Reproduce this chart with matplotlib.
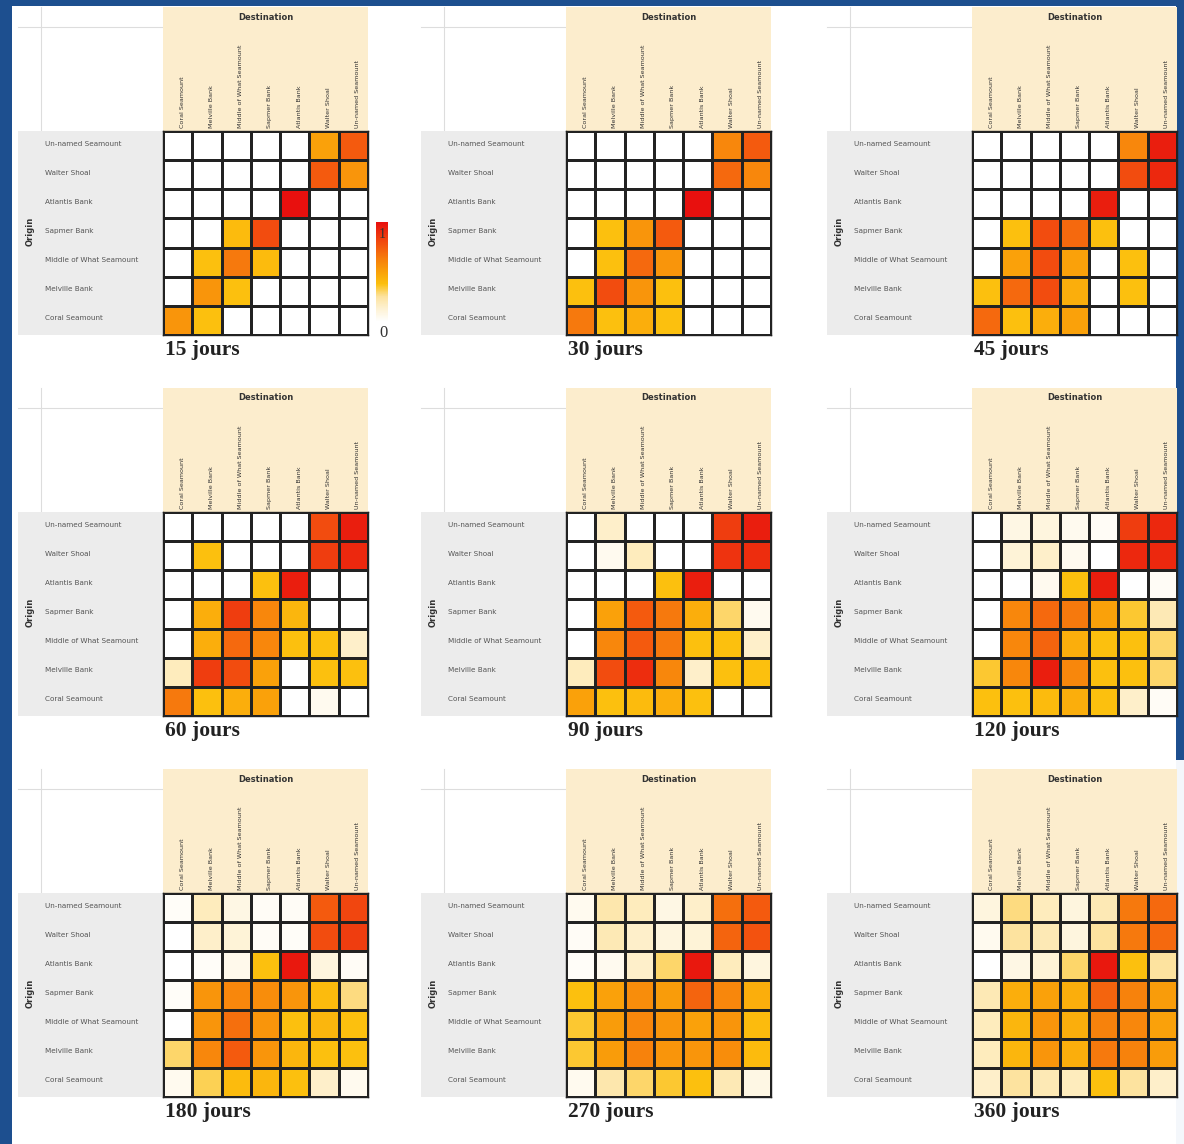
import numpy as np
import matplotlib
matplotlib.use("Agg")
import matplotlib.pyplot as plt
from matplotlib.colors import LinearSegmentedColormap
from matplotlib.patches import Rectangle
from matplotlib.lines import Line2D

W, H = 1184, 1144

sites_dest = ["Coral Seamount", "Melville Bank", "Middle of What Seamount",
              "Sapmer Bank", "Atlantis Bank", "Walter Shoal", "Un-named Seamount"]
sites_orig = ["Un-named Seamount", "Walter Shoal", "Atlantis Bank", "Sapmer Bank",
              "Middle of What Seamount", "Melville Bank", "Coral Seamount"]

durations = ["15 jours", "30 jours", "45 jours", "60 jours", "90 jours",
             "120 jours", "180 jours", "270 jours", "360 jours"]

# connectivity matrices: rows = origin (top to bottom), columns = destination
conn_15 = [[0, 0, 0, 0, 0, 0.50, 0.75],
           [0, 0, 0, 0, 0, 0.75, 0.55],
           [0, 0, 0, 0, 1.00, 0, 0],
           [0, 0, 0.40, 0.80, 0, 0, 0],
           [0, 0.38, 0.65, 0.40, 0, 0, 0],
           [0, 0.55, 0.38, 0, 0, 0, 0],
           [0.55, 0.38, 0, 0, 0, 0, 0]]
conn_30 = [[0, 0, 0, 0, 0, 0.60, 0.75],
           [0, 0, 0, 0, 0, 0.70, 0.60],
           [0, 0, 0, 0, 1.00, 0, 0],
           [0, 0.38, 0.55, 0.75, 0, 0, 0],
           [0, 0.38, 0.70, 0.55, 0, 0, 0],
           [0.38, 0.80, 0.55, 0.38, 0, 0, 0],
           [0.65, 0.38, 0.45, 0.38, 0, 0, 0]]
conn_45 = [[0, 0, 0, 0, 0, 0.60, 0.95],
           [0, 0, 0, 0, 0, 0.80, 0.92],
           [0, 0, 0, 0, 0.95, 0, 0],
           [0, 0.38, 0.80, 0.70, 0.38, 0, 0],
           [0, 0.50, 0.80, 0.50, 0, 0.38, 0],
           [0.38, 0.70, 0.80, 0.45, 0, 0.38, 0],
           [0.70, 0.38, 0.45, 0.50, 0, 0, 0]]
conn_60 = [[0, 0, 0, 0, 0, 0.80, 0.95],
           [0, 0.38, 0, 0, 0, 0.85, 0.92],
           [0, 0, 0, 0.38, 0.95, 0, 0],
           [0, 0.45, 0.85, 0.60, 0.42, 0, 0],
           [0, 0.45, 0.70, 0.60, 0.38, 0.38, 0.15],
           [0.18, 0.85, 0.80, 0.50, 0, 0.38, 0.38],
           [0.65, 0.38, 0.45, 0.50, 0, 0.05, 0]]
conn_90 = [[0, 0.15, 0, 0, 0, 0.85, 0.95],
           [0, 0.05, 0.18, 0, 0, 0.88, 0.90],
           [0, 0, 0, 0.38, 0.95, 0, 0],
           [0, 0.50, 0.75, 0.65, 0.45, 0.30, 0.05],
           [0, 0.60, 0.75, 0.65, 0.38, 0.38, 0.15],
           [0.18, 0.80, 0.90, 0.60, 0.15, 0.38, 0.38],
           [0.50, 0.38, 0.40, 0.45, 0.38, 0, 0]]
conn_120 = [[0, 0.08, 0.10, 0.05, 0.03, 0.85, 0.92],
            [0, 0.12, 0.15, 0.05, 0, 0.92, 0.92],
            [0, 0, 0.05, 0.38, 0.95, 0, 0.03],
            [0, 0.60, 0.70, 0.65, 0.50, 0.35, 0.20],
            [0, 0.60, 0.72, 0.45, 0.38, 0.38, 0.30],
            [0.35, 0.60, 0.95, 0.60, 0.38, 0.38, 0.30],
            [0.38, 0.38, 0.40, 0.45, 0.38, 0.15, 0.03]]
conn_180 = [[0.02, 0.18, 0.08, 0.03, 0.03, 0.75, 0.82],
            [0, 0.15, 0.12, 0.03, 0.02, 0.80, 0.85],
            [0, 0.02, 0.06, 0.38, 0.97, 0.10, 0.03],
            [0.02, 0.55, 0.60, 0.58, 0.55, 0.40, 0.28],
            [0, 0.55, 0.68, 0.55, 0.38, 0.42, 0.38],
            [0.30, 0.60, 0.75, 0.55, 0.42, 0.38, 0.38],
            [0.05, 0.32, 0.40, 0.42, 0.38, 0.15, 0.05]]
conn_270 = [[0.05, 0.22, 0.18, 0.08, 0.15, 0.68, 0.75],
            [0.03, 0.20, 0.15, 0.10, 0.12, 0.72, 0.78],
            [0.02, 0.05, 0.15, 0.30, 0.97, 0.18, 0.10],
            [0.38, 0.50, 0.58, 0.52, 0.72, 0.60, 0.45],
            [0.35, 0.52, 0.60, 0.55, 0.50, 0.55, 0.40],
            [0.35, 0.52, 0.62, 0.55, 0.55, 0.58, 0.40],
            [0.05, 0.22, 0.30, 0.35, 0.38, 0.20, 0.08]]
conn_360 = [[0.10, 0.28, 0.18, 0.10, 0.20, 0.65, 0.70],
            [0.05, 0.25, 0.20, 0.10, 0.25, 0.65, 0.70],
            [0.00, 0.08, 0.12, 0.30, 0.97, 0.38, 0.25],
            [0.20, 0.45, 0.50, 0.45, 0.72, 0.62, 0.52],
            [0.18, 0.42, 0.55, 0.45, 0.62, 0.60, 0.50],
            [0.18, 0.42, 0.55, 0.45, 0.65, 0.62, 0.52],
            [0.15, 0.25, 0.20, 0.18, 0.38, 0.25, 0.15]]

matrices = [conn_15, conn_30, conn_45, conn_60, conn_90,
            conn_120, conn_180, conn_270, conn_360]

cmap = LinearSegmentedColormap.from_list(
    "connect",
    [(0.0, "#ffffff"), (0.12, "#fef3d6"), (0.25, "#fde3a0"),
     (0.38, "#fcc00e"), (0.5, "#faa20a"), (0.62, "#f7820c"),
     (0.78, "#f3520f"), (1.0, "#e8100e")])

fig = plt.figure(figsize=(W / 100, H / 100), dpi=100)
fig.patch.set_facecolor("#1d4f8f")


def fx(x):
    return x / W


def fy(y):
    return 1 - y / H


def frect(x0, y0, x1, y1, **kw):
    fig.patches.append(Rectangle((fx(x0), fy(y1)), fx(x1) - fx(x0), fy(y0) - fy(y1),
                                 transform=fig.transFigure, figure=fig, **kw))


def fline(xs, ys, **kw):
    fig.lines.append(Line2D([fx(v) for v in xs], [fy(v) for v in ys],
                            transform=fig.transFigure, figure=fig, **kw))


# slide surface
frect(12, 6, 1176, H, facecolor="white", edgecolor="none", zorder=-2)
frect(1176, 760, W, H, facecolor="#f4f7fb", edgecolor="none", zorder=-2)

grid_w, grid_h = 205, 204
head_h, side_w = 124, 145
col_left = [163, 566, 972]
row_top = [131, 512, 893]

for k, (mat, title) in enumerate(zip(matrices, durations)):
    gx = col_left[k % 3]
    gy = row_top[k // 3]
    # header and side panels
    frect(gx, gy - head_h, gx + grid_w, gy, facecolor="#fcedcd", edgecolor="none", zorder=-1)
    frect(gx - side_w, gy, gx, gy + grid_h, facecolor="#ececec", edgecolor="none", zorder=-1)
    fline([gx - side_w, gx], [gy - head_h + 20, gy - head_h + 20], color="#dddddd", lw=0.8, zorder=-1)
    fline([gx - side_w + 23, gx - side_w + 23], [gy - head_h, gy], color="#dddddd", lw=0.8, zorder=-1)

    ax = fig.add_axes([fx(gx), fy(gy + grid_h), grid_w / W, grid_h / H])
    ax.set_zorder(2)
    ax.pcolormesh(np.array(mat), cmap=cmap, vmin=0, vmax=1,
                  edgecolors="#222222", linewidth=0.75)
    ax.set_xlim(0, 7)
    ax.set_ylim(7, 0)
    ax.set_xticks([])
    ax.set_yticks([])
    for s in ax.spines.values():
        s.set_color("#222222")
        s.set_linewidth(1.0)

    cw = grid_w / 7
    for j, name in enumerate(sites_dest):
        fig.text(fx(gx + (j + 0.65) * cw), fy(gy - 3), name, rotation=90,
                 ha="center", va="bottom", fontsize=4.6, color="#333333")
    rh = grid_h / 7
    for i, name in enumerate(sites_orig):
        fig.text(fx(gx - 118), fy(gy + (i + 0.5) * rh - 2), name,
                 ha="left", va="center", fontsize=5.2, color="#555555")
    fig.text(fx(gx + grid_w / 2), fy(gy - head_h + 10), "Destination",
             ha="center", va="center", fontsize=6, fontweight="bold", color="#333333")
    fig.text(fx(gx - 133), fy(gy + grid_h / 2 - 2), "Origin", rotation=90,
             ha="center", va="center", fontsize=6, fontweight="bold", color="#333333")
    fig.text(fx(gx + 2), fy(gy + grid_h + 15), title, ha="left", va="center",
             fontsize=15.5, fontweight="bold", family="Liberation Serif", color="#222222")

# colour scale beside the first panel
cax = fig.add_axes([fx(376), fy(322), 12 / W, 100 / H])
cax.set_zorder(2)
cax.imshow(np.linspace(1, 0, 100).reshape(-1, 1), cmap=cmap, aspect="auto",
           extent=(0, 1, 0, 1), vmin=0, vmax=1)
cax.set_axis_off()
fig.text(fx(382), fy(234), "1", ha="center", va="center", fontsize=10,
         family="Liberation Serif", color="#333333", zorder=5)
fig.text(fx(383), fy(333), "0", ha="center", va="center", fontsize=12,
         family="Liberation Serif", color="#333333")

fig.savefig("out.png", dpi=100, facecolor=fig.get_facecolor())
